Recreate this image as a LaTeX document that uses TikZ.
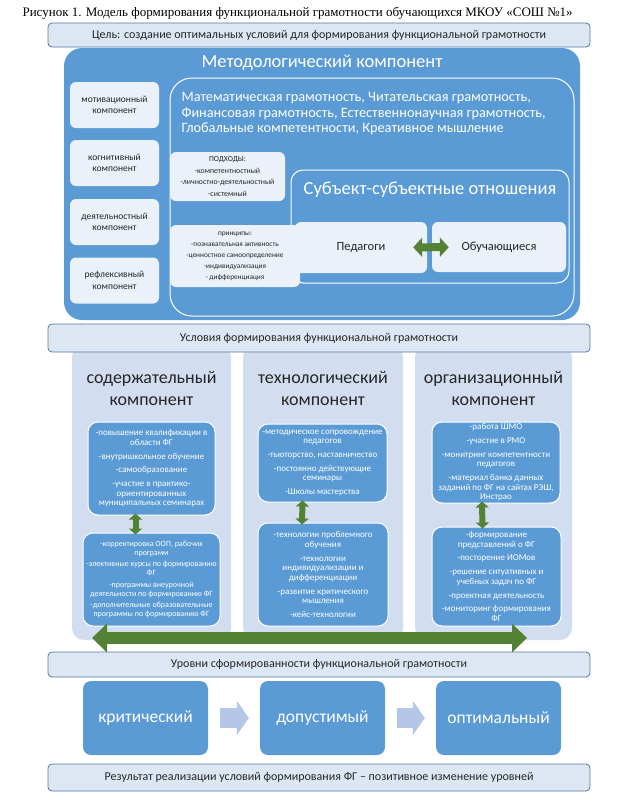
\documentclass[tikz,border=0pt]{standalone}
\usepackage{fontspec}
\setmainfont{Carlito}
\newfontfamily\captionfont{Liberation Serif}
\usetikzlibrary{arrows.meta}

\definecolor{methblue}{RGB}{91,155,213}
\definecolor{paleblue}{RGB}{234,241,248}
\definecolor{panelblue}{RGB}{210,222,239}
\definecolor{barfill}{RGB}{221,231,243}
\definecolor{barline}{RGB}{84,120,163}
\definecolor{linkgreen}{RGB}{84,130,53}
\definecolor{stepblue}{RGB}{180,199,231}
\definecolor{darktext}{RGB}{38,38,38}

\begin{document}
\begin{tikzpicture}[x=1pt, y=-1pt,
    bar/.style={draw=barline, fill=barfill, line width=0.8pt, rounded corners=4pt, minimum width=542pt, inner sep=0pt, text=darktext, font=\fontsize{12}{14}\selectfont},
    bluearea/.style={fill=methblue, rounded corners=18pt, inner sep=0pt},
    whitearea/.style={draw=white, fill=methblue, line width=1pt, inner sep=0pt},
    lightbox/.style={fill=paleblue, rounded corners=6pt, inner sep=1pt, align=center, text=darktext},
    panel/.style={fill=panelblue, rounded corners=12pt, inner sep=0pt},
    paneltitle/.style={align=center, text=darktext, font=\fontsize{18}{22}\selectfont},
    itembox/.style={draw=white, fill=methblue, line width=1pt, rounded corners=10pt, inner sep=1pt, align=center, text=white, font=\fontsize{9}{9.6}\selectfont},
    levelbox/.style={fill=methblue, rounded corners=8pt, minimum width=125pt, minimum height=74pt, text=white, font=\fontsize{17.5}{20}\selectfont},
    vlink/.style={draw=linkgreen, line width=6pt, {Triangle[length=6pt,width=13pt]}-{Triangle[length=6pt,width=13pt]}, shorten <=-2pt, shorten >=-2pt},
    sslink/.style={draw=linkgreen, line width=8pt, {Triangle[length=9pt,width=19pt]}-{Triangle[length=9pt,width=19pt]}, shorten <=-14pt, shorten >=-17pt},
    biglink/.style={draw=linkgreen, line width=12pt, {Triangle[length=15pt,width=28pt]}-{Triangle[length=15pt,width=28pt]}},
    steplink/.style={draw=stepblue, line width=20pt, -{Triangle[length=12pt,width=34pt]}, shorten <=12pt, shorten >=11pt}]
    \useasboundingbox (0,0) rectangle (628,804);
    \node[anchor=west, font=\captionfont\fontsize{13}{15}\selectfont] (caption) at (19,13) {Рисунок 1. Модель формирования функциональной грамотности обучающихся МКОУ «СОШ №1»};
    \node[bar, minimum height=24pt] (goal) at (319,35) {Цель: создание оптимальных условий для формирования функциональной грамотности};
    \node[bluearea, minimum width=516pt, minimum height=272pt] (metod) at (322,184) {};
    \node[text=white, font=\fontsize{18.5}{20}\selectfont] (metodtitle) at (322,63) {Методологический компонент};
    \node[lightbox, minimum width=89pt, minimum height=46pt, font=\fontsize{9.5}{11.5}\selectfont] (motiv) at (114.5,105) {мотивационный\\компонент};
    \node[lightbox, minimum width=89pt, minimum height=46pt, font=\fontsize{9.5}{11.5}\selectfont] (cognit) at (114.5,163) {когнитивный\\компонент};
    \node[lightbox, minimum width=89pt, minimum height=46pt, font=\fontsize{9.5}{11.5}\selectfont] (activ) at (114.5,222) {деятельностный\\компонент};
    \node[lightbox, minimum width=89pt, minimum height=46pt, font=\fontsize{9.5}{11.5}\selectfont] (reflex) at (114.5,280.5) {рефлексивный\\компонент};
    \node[whitearea, rounded corners=22pt, minimum width=404pt, minimum height=238pt] (areas) at (372,197) {};
    \node[anchor=north west, align=left, text=white, font=\fontsize{14.3}{15.5}\selectfont] (areastext) at (178,89) {Математическая грамотность, Читательская грамотность,\\Финансовая грамотность, Естественнонаучная грамотность,\\Глобальные компетентности, Креативное мышление};
    \node[lightbox, minimum width=115pt, minimum height=49pt, font=\fontsize{7.8}{11.8}\selectfont] (approach) at (227.5,176.5) {ПОДХОДЫ:\\-компетентностный\\-личностно-деятельностный\\-системный};
    \node[whitearea, rounded corners=12pt, minimum width=278pt, minimum height=113pt] (subjects) at (430,226.5) {};
    \node[text=white, font=\fontsize{18.5}{20}\selectfont] (subjtitle) at (430,190) {Субъект-субъектные отношения};
    \node[lightbox, minimum width=130pt, minimum height=62pt, font=\fontsize{7.3}{11}\selectfont] (principle) at (235,256) {принципы:\\-познавательная активность\\-ценностное самоопределение\\-индивидуализация\\- дифференциация};
    \node[lightbox, minimum width=132pt, minimum height=51pt, font=\fontsize{12.5}{14}\selectfont] (teachers) at (361,247.5) {Педагоги};
    \node[lightbox, minimum width=134pt, minimum height=50pt, font=\fontsize{12.5}{14}\selectfont] (pupils) at (499,247) {Обучающиеся};
    \draw[sslink] (teachers) -- (pupils);
    \node[panel, minimum width=159pt, minimum height=295pt] (contpanel) at (151.5,492.5) {};
    \node[panel, minimum width=160pt, minimum height=295pt] (techpanel) at (323,492.5) {};
    \node[panel, minimum width=157pt, minimum height=295pt] (orgpanel) at (493.5,492.5) {};
    \node[bar, minimum height=28pt] (conditions) at (319,338) {Условия формирования функциональной грамотности};
    \node[paneltitle] (conttitle) at (151.5,388) {содержательный\\компонент};
    \node[paneltitle] (techtitle) at (323,388) {технологический\\компонент};
    \node[paneltitle] (orgtitle) at (493.5,388) {организационный\\компонент};
    \node[itembox, minimum width=127pt, minimum height=93pt] (contup) at (151.5,468.5) {-повышение квалификации в\\области ФГ\\[4.2pt]-внутришкольное обучение\\[4.2pt]-самообразование\\[4.2pt]-участие в практико-\\ориентированных\\муниципальных семинарах};
    \node[itembox, minimum width=137pt, minimum height=93pt, font=\fontsize{8}{9}\selectfont] (contlow) at (151.5,579.5) {-корректировка ООП, рабочих\\программ\\[2.5pt]-элективные курсы по формированию\\ФГ\\[2.5pt]-программы внеурочной\\деятельности по формированию ФГ\\[2.5pt]-дополнительные образовательные\\программы по формированию ФГ};
    \node[itembox, minimum width=129pt, minimum height=78pt] (techup) at (322.5,463) {-методическое сопровождение\\педагогов\\[4.2pt]-тьюторство, наставничество\\[4.2pt]-постоянно действующие\\семинары\\[4.2pt]-Школы мастерства};
    \node[itembox, minimum width=130pt, minimum height=103pt] (techlow) at (323,574.5) {-технологии проблемного\\обучения\\[4.2pt]-технологии\\индивидуализации и\\дифференциации\\[4.2pt]-развитие критического\\мышления\\[4.2pt]-кейс-технологии};
    \node[itembox, minimum width=128pt, minimum height=81pt] (orgup) at (496,462.5) {-работа ШМО\\[4.2pt]-участие в РМО\\[4.2pt]-монитринг компетентности\\педагогов\\[4.2pt]-материал банка данных\\заданий по ФГ на сайтах РЭШ,\\Инстрао};
    \node[itembox, minimum width=129pt, minimum height=99pt] (orglow) at (496.5,576.5) {-формирование\\представлений о ФГ\\[4.2pt]-посторение ИОМов\\[4.2pt]-решение ситуативных и\\учебных задач по ФГ\\[4.2pt]-проектная деятельность\\[4.2pt]-мониторинг формирования\\ФГ};
    \draw[vlink] ([xshift=-16pt]contup.south) -- ([xshift=-16pt]contlow.north);
    \draw[vlink] ([xshift=-20pt]techup.south) -- ([xshift=-21pt]techlow.north);
    \draw[vlink] ([xshift=-14pt]orgup.south) -- ([xshift=-14pt]orglow.north);
    \coordinate (linkleft) at (92,638);
    \coordinate (linkright) at (527,638);
    \draw[biglink] (linkleft) -- (linkright);
    \node[bar, minimum height=25pt] (levels) at (319,664.5) {Уровни сформированности функциональной грамотности};
    \node[levelbox] (critical) at (145.5,718) {критический};
    \node[levelbox] (acceptable) at (322.5,718) {допустимый};
    \node[levelbox] (optimal) at (498.5,718) {оптимальный};
    \draw[steplink] (critical) -- (acceptable);
    \draw[steplink] (acceptable) -- (optimal);
    \node[bar, minimum height=27pt] (result) at (319,777.5) {Результат реализации условий формирования ФГ – позитивное изменение уровней};
  \end{tikzpicture}
\end{document}
